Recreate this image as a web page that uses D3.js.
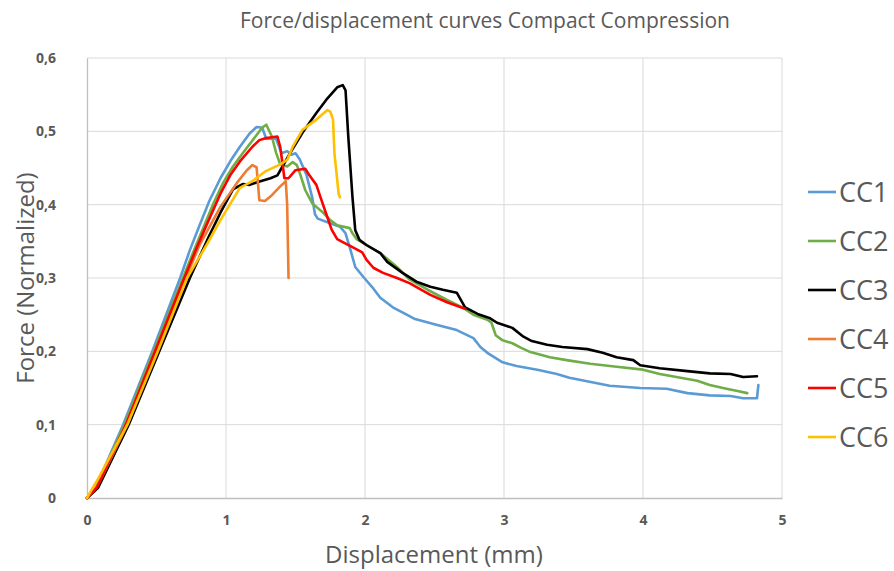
<!DOCTYPE html>
<html><head><meta charset="utf-8">
<script src="https://cdn.jsdelivr.net/npm/d3@7"></script>
<style>
html,body{margin:0;padding:0;background:#fff;}
svg{display:block;font-family:"Open Sans",sans-serif;}
</style></head>
<body><svg id="c" width="894" height="571"></svg>
<script>
const title = "Force/displacement curves Compact Compression";
const xTitle = "Displacement (mm)";
const yTitle = "Force (Normalized)";
const xTicks = [0,1,2,3,4,5];
const yTicks = [0,0.1,0.2,0.3,0.4,0.5,0.6];
const seriesNames = ["CC1","CC2","CC3","CC4","CC5","CC6"];
const seriesColors = ["#5B9BD5","#70AD47","#000000","#ED7D31","#FF0000","#FFC000"];

const cc1 = [[0,0],[0.06,0.013],[0.26,0.10],[0.47,0.20],[0.67,0.30],[0.74,0.338],[0.81,0.372],[0.88,0.405],[0.96,0.436],[1.04,0.462],[1.10,0.479],[1.17,0.497],[1.22,0.506],[1.26,0.505],[1.29,0.49],[1.36,0.49],[1.40,0.47],[1.44,0.473],[1.47,0.468],[1.50,0.47],[1.53,0.462],[1.58,0.44],[1.62,0.41],[1.64,0.387],[1.66,0.381],[1.73,0.376],[1.82,0.37],[1.86,0.361],[1.89,0.342],[1.93,0.315],[1.99,0.301],[2.05,0.288],[2.11,0.273],[2.20,0.260],[2.30,0.250],[2.36,0.244],[2.52,0.236],[2.66,0.229],[2.78,0.218],[2.83,0.206],[2.88,0.198],[2.99,0.185],[3.09,0.18],[3.24,0.175],[3.38,0.169],[3.47,0.164],[3.76,0.153],[3.98,0.150],[4.17,0.149],[4.32,0.143],[4.48,0.140],[4.63,0.139],[4.72,0.136],[4.82,0.136],[4.83,0.154]];
const cc2 = [[0,0],[0.06,0.012],[0.27,0.10],[0.48,0.20],[0.69,0.30],[0.77,0.338],[0.84,0.37],[0.91,0.402],[0.98,0.43],[1.05,0.452],[1.12,0.47],[1.22,0.495],[1.26,0.505],[1.29,0.509],[1.33,0.493],[1.36,0.471],[1.39,0.455],[1.44,0.452],[1.48,0.458],[1.51,0.454],[1.54,0.438],[1.57,0.42],[1.62,0.402],[1.65,0.397],[1.70,0.389],[1.75,0.379],[1.80,0.372],[1.89,0.368],[1.91,0.361],[1.94,0.353],[2.01,0.345],[2.11,0.334],[2.23,0.315],[2.32,0.298],[2.45,0.284],[2.59,0.270],[2.71,0.259],[2.78,0.250],[2.88,0.243],[2.91,0.239],[2.94,0.222],[2.99,0.215],[3.06,0.211],[3.12,0.205],[3.19,0.199],[3.33,0.192],[3.45,0.188],[3.62,0.183],[3.81,0.179],[4.0,0.175],[4.12,0.169],[4.24,0.165],[4.39,0.160],[4.48,0.154],[4.60,0.149],[4.68,0.146],[4.75,0.143]];
const cc3 = [[0,0],[0.08,0.014],[0.30,0.10],[0.52,0.20],[0.74,0.30],[0.81,0.329],[0.88,0.358],[0.96,0.389],[1.05,0.421],[1.12,0.428],[1.17,0.427],[1.23,0.431],[1.32,0.436],[1.37,0.44],[1.40,0.45],[1.46,0.470],[1.55,0.498],[1.65,0.525],[1.73,0.545],[1.80,0.560],[1.84,0.563],[1.86,0.556],[1.88,0.492],[1.91,0.410],[1.93,0.365],[1.96,0.352],[2.01,0.345],[2.11,0.334],[2.16,0.322],[2.27,0.307],[2.37,0.295],[2.47,0.288],[2.56,0.284],[2.66,0.280],[2.72,0.260],[2.81,0.251],[2.90,0.245],[2.95,0.239],[3.06,0.232],[3.14,0.220],[3.20,0.214],[3.31,0.209],[3.42,0.206],[3.60,0.203],[3.71,0.198],[3.81,0.192],[3.93,0.188],[3.98,0.181],[4.12,0.177],[4.32,0.173],[4.48,0.170],[4.63,0.169],[4.72,0.165],[4.82,0.166]];
const cc4 = [[0,0],[0.07,0.015],[0.1,0.026],[0.29,0.10],[0.50,0.20],[0.71,0.30],[0.81,0.345],[0.96,0.397],[1.08,0.430],[1.15,0.447],[1.19,0.454],[1.22,0.451],[1.24,0.406],[1.28,0.405],[1.33,0.413],[1.39,0.425],[1.43,0.432],[1.44,0.40],[1.45,0.30]];
const cc5 = [[0,0],[0.07,0.014],[0.28,0.10],[0.49,0.20],[0.70,0.30],[0.78,0.337],[0.85,0.368],[0.96,0.415],[1.03,0.44],[1.10,0.459],[1.19,0.479],[1.24,0.488],[1.29,0.491],[1.37,0.493],[1.39,0.479],[1.41,0.451],[1.42,0.436],[1.45,0.436],[1.50,0.447],[1.57,0.449],[1.60,0.44],[1.65,0.427],[1.68,0.41],[1.72,0.388],[1.76,0.366],[1.80,0.353],[1.84,0.349],[1.91,0.342],[1.98,0.335],[2.01,0.325],[2.06,0.314],[2.13,0.307],[2.23,0.300],[2.32,0.293],[2.47,0.277],[2.59,0.267],[2.72,0.258]];
const cc6 = [[0,0],[0.03,0.01],[0.08,0.026],[0.29,0.10],[0.51,0.20],[0.72,0.30],[0.86,0.345],[0.96,0.379],[1.10,0.423],[1.19,0.432],[1.28,0.445],[1.39,0.455],[1.44,0.461],[1.48,0.479],[1.55,0.502],[1.65,0.516],[1.73,0.529],[1.75,0.527],[1.77,0.516],[1.78,0.47],[1.80,0.434],[1.81,0.415],[1.82,0.41]];
const seriesData = [cc1,cc2,cc3,cc4,cc5,cc6];

const svg = d3.select("#c");
const L=87, R=782, T=58, B=498;
const x = d3.scaleLinear().domain([0,5]).range([L,R]);
const y = d3.scaleLinear().domain([0,0.6]).range([B,T]);
const txt = "#595959";
const fmtY = v => v===0 ? "0" : d3.format(".1f")(v).replace(".",",");

svg.append("rect").attr("width",894).attr("height",571).attr("fill","#fff");

// gridlines
svg.append("g").selectAll("line").data(xTicks.filter(v=>v>0)).join("line")
  .attr("x1",d=>x(d)).attr("x2",d=>x(d)).attr("y1",T).attr("y2",B)
  .attr("stroke","#d9d9d9").attr("stroke-width",1);
svg.append("g").selectAll("line").data(yTicks.filter(v=>v>0)).join("line")
  .attr("x1",L).attr("x2",R).attr("y1",d=>y(d)).attr("y2",d=>y(d))
  .attr("stroke","#d9d9d9").attr("stroke-width",1);

// axes
const xAxis = svg.append("g").attr("transform",`translate(0,${B})`)
  .call(d3.axisBottom(x).tickValues(xTicks).tickSize(0).tickPadding(17).tickFormat(d3.format("d")));
const yAxis = svg.append("g").attr("transform",`translate(${L},0)`)
  .call(d3.axisLeft(y).tickValues(yTicks).tickSize(0).tickPadding(31).tickFormat(fmtY));
[xAxis,yAxis].forEach(a=>{
  a.select(".domain").attr("stroke","#bfbfbf").attr("stroke-width",1.3);
  a.selectAll("text").attr("fill",txt).style("font-size","14px").style("font-weight","bold")
   .style("font-family","'Open Sans',sans-serif");
});

// lines
const line = d3.line().x(d=>x(d[0])).y(d=>y(d[1]));
svg.append("g").selectAll("path").data(seriesData).join("path")
  .attr("d",line).attr("fill","none")
  .attr("stroke",(d,i)=>seriesColors[i]).attr("stroke-width",2.6)
  .attr("stroke-linejoin","round").attr("stroke-linecap","round");

// titles
svg.append("text").attr("x",485).attr("y",28).attr("text-anchor","middle")
  .attr("fill",txt).style("font-size","21px").text(title);
svg.append("text").attr("x",434).attr("y",563).attr("text-anchor","middle")
  .attr("fill",txt).style("font-size","24px").text(xTitle);
svg.append("text").attr("transform","translate(34,278) rotate(-90)").attr("text-anchor","middle")
  .attr("fill",txt).style("font-size","24px").text(yTitle);

// legend
const leg = svg.append("g");
const ly = d3.scalePoint().domain(seriesNames).range([192,437]);
const items = leg.selectAll("g").data(seriesNames).join("g")
  .attr("transform",d=>`translate(0,${ly(d)})`);
items.append("line").attr("x1",808).attr("x2",836).attr("y1",0).attr("y2",0)
  .attr("stroke",(d,i)=>seriesColors[i]).attr("stroke-width",2.6);
items.append("text").attr("x",839).attr("y",0).attr("dy","0.36em")
  .attr("fill",txt).style("font-size","27px").text(d=>d);
</script></body></html>
